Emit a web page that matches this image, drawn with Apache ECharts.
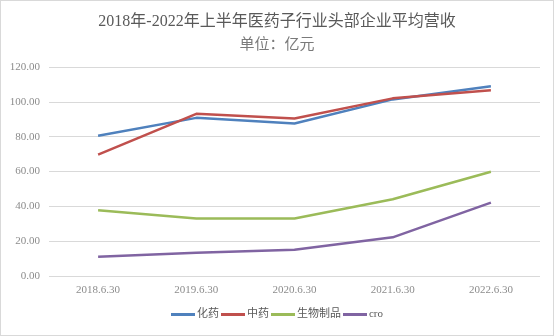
<!DOCTYPE html>
<html><head><meta charset="utf-8">
<script src="https://cdn.jsdelivr.net/npm/echarts@6/dist/echarts.min.js"></script>
<style>html,body{margin:0;padding:0;background:#fff;}#c{width:552px;height:334px;border:1px solid #d9d9d9;}</style>
</head><body><div id="c"></div>
<script>
const categories = ['2018.6.30','2019.6.30','2020.6.30','2021.6.30','2022.6.30'];
const seriesNames = ['化药','中药','生物制品','cro'];
const huayao = [80.5, 90.8, 87.6, 101.4, 109.0];
const zhongyao = [69.7, 93.1, 90.4, 102.0, 106.7];
const shengwu = [37.7, 33.0, 33.0, 44.1, 59.9];
const cro = [11.0, 13.4, 15.1, 22.2, 42.1];
const yTicks = [0, 20, 40, 60, 80, 100, 120];

const colors = ['#4F81BD','#C0504D','#9BBB59','#8064A2'];
const font = "'Liberation Serif','Noto Sans CJK SC',serif";
const chart = echarts.init(document.getElementById('c'));
const data = [huayao, zhongyao, shengwu, cro];
chart.setOption({
  animation:false,
  color: colors,
  title: [
    {text:'2018年-2022年上半年医药子行业头部企业平均营收', left:'center', top:8, textStyle:{fontSize:16, fontWeight:'normal', color:'#595959', fontFamily:font}},
    {text:'单位：亿元', left:'center', top:32, textStyle:{fontSize:15, fontWeight:'normal', color:'#7a7a7a', fontFamily:font}}
  ],
  legend: {bottom:10, left:'center', itemWidth:24, itemHeight:3, itemGap:2, icon:'rect',
    textStyle:{fontSize:11, color:'#595959', fontFamily:font, padding:[0,0,0,-3]}, data:seriesNames},
  grid: {left:48, right:13, top:66, bottom:59},
  xAxis: {type:'category', data:categories, boundaryGap:true,
    axisLine:{show:false}, axisTick:{show:false},
    axisLabel:{fontSize:11, color:'#8c8c8c', fontFamily:font, margin:9}},
  yAxis: {type:'value', min:yTicks[0], max:yTicks[yTicks.length-1], interval:20,
    axisLine:{show:false}, axisTick:{show:false},
    axisLabel:{fontSize:11, color:'#8c8c8c', fontFamily:font, formatter:v=>v.toFixed(2), margin:9}},
  series: seriesNames.map((n,i)=>({name:n, type:'line', data:data[i], symbol:'none', lineStyle:{width:2.5}}))
});
chart.setOption({yAxis:{splitLine:{lineStyle:{color:'#d9d9d9', width:1}}}});
</script></body></html>
